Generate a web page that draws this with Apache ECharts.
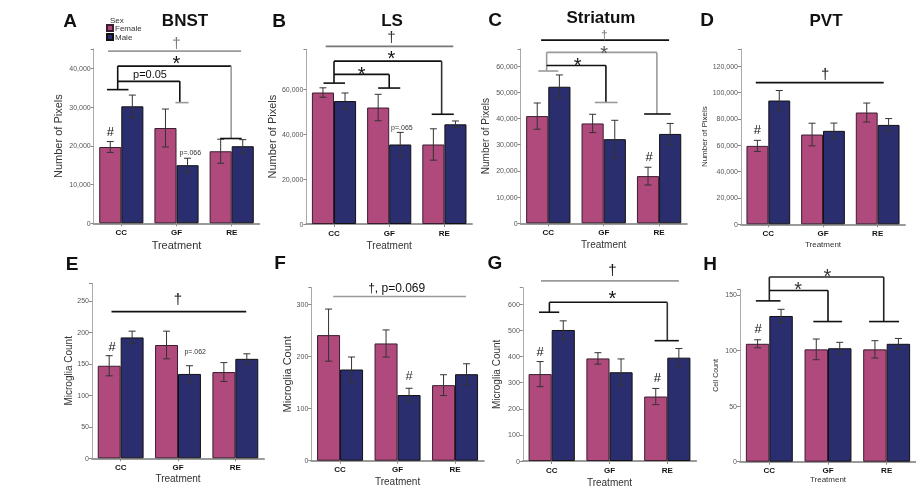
<!DOCTYPE html>
<html>
<head>
<meta charset="utf-8">
<script src="https://cdn.jsdelivr.net/npm/echarts@6/dist/echarts.min.js"></script>
<style>
html,body{margin:0;padding:0;background:#fff}
#c{width:916px;height:490px;will-change:transform;opacity:0.999;-webkit-font-smoothing:antialiased}
#c text{-webkit-font-smoothing:antialiased}
</style>
</head>
<body>
<div id="c"></div>
<script>
// ---------- DATA ----------
const categories = ['CC', 'GF', 'RE'];
// A: BNST (Number of Pixels)
const bnstFemale = [19700, 24600, 18600];
const bnstFemaleSem = [1400, 4900, 3100];
const bnstMale = [30200, 15000, 19900];
const bnstMaleSem = [2900, 1800, 1700];
// B: LS
const lsFemale = [58700, 52000, 35500];
const lsFemaleSem = [2100, 5900, 7000];
const lsMale = [54900, 35500, 44500];
const lsMaleSem = [3600, 5400, 1500];
// C: Striatum
const striatumFemale = [40900, 38100, 18000];
const striatumFemaleSem = [5000, 3500, 3400];
const striatumMale = [52100, 32100, 34100];
const striatumMaleSem = [4500, 7200, 4000];
// D: PVT
const pvtFemale = [59500, 68100, 84800];
const pvtFemaleSem = [4200, 8600, 7200];
const pvtMale = [93900, 70900, 75400];
const pvtMaleSem = [7600, 5900, 4800];
// E: BNST microglia count
const eFemale = [147, 180, 137];
const eFemaleSem = [16, 22, 15];
const eMale = [192, 134, 158];
const eMaleSem = [10, 13, 8];
// F: LS microglia count
const fFemale = [241, 225, 145];
const fFemaleSem = [50, 26, 20];
const fMale = [175, 126, 166];
const fMaleSem = [24, 13, 20];
// G: Striatum microglia count
const gFemale = [333, 393, 247];
const gFemaleSem = [48, 22, 31];
const gMale = [502, 340, 396];
const gMaleSem = [35, 51, 35];
// H: PVT cell count
const hFemale = [106, 101, 101];
const hFemaleSem = [3.6, 9.3, 7.8];
const hMale = [131, 102, 106];
const hMaleSem = [6, 5.3, 4.8];

// ---------- STYLE / LAYOUT ----------
const FONT = 'Liberation Sans, Arial, sans-serif';
const FEMALE = '#b04a7c';
const MALE = '#2b2e6e';
const BLK = '#111';
const GRY = '#9a9a9a';

function H(x1, x2, y, c) { return [x1, y, x2, y, c]; }
function V(x, y1, y2, c) { return [x, y1, x, y2, c]; }

const panels = [
  { letter: 'A', title: 'BNST', f: bnstFemale, fs: bnstFemaleSem, m: bnstMale, ms: bnstMaleSem,
    g: [93.7, 49, 165.6, 174.3], max: 45000, interval: 10000, comma: true,
    yName: 'Number of Pixels', yNs: 11, yGap: 30, xNs: 11, xGap: 16,
    segs: [H(-0.24, 2.17, 44450, GRY), H(-0.065, 1.99, 40590, BLK), V(-0.065, 40590, 34510, BLK),
      H(-0.26, 0.13, 34510, BLK), V(1.99, 40590, 21890, GRY), H(1.79, 2.18, 21890, BLK),
      H(-0.065, 1.06, 36650, BLK), V(1.06, 36650, 31160, BLK), H(0.98, 1.22, 31160, GRY)],
    txts: [[1.0, 46700, '†', 15, '#777'], [1.0, 42800, '*', 20, BLK], [0.52, 38450, 'p=0.05', 11, BLK],
      [-0.2, 23600, '#', 13, BLK], [1.25, 18400, 'p=.066', 7, '#333']] },
  { letter: 'B', title: 'LS', f: lsFemale, fs: lsFemaleSem, m: lsMale, ms: lsMaleSem,
    g: [306.4, 49.3, 165.6, 174.7], max: 78000, interval: 20000, comma: true,
    yName: 'Number of Pixels', yNs: 11, yGap: 29, xNs: 10, xGap: 16,
    segs: [H(-0.15, 2.16, 79300, '#777'), H(0.0, 1.95, 72700, BLK), V(0.0, 72700, 62900, BLK),
      H(-0.19, 0.2, 62900, BLK), V(1.95, 72700, 49000, '#333'), H(1.77, 2.17, 49000, BLK),
      H(0.0, 1.0, 66800, BLK), V(1.0, 66800, 60700, BLK), H(0.8, 1.2, 60700, BLK)],
    txts: [[1.04, 83700, '†', 15, '#333'], [1.04, 76300, '*', 20, BLK], [0.5, 69400, '*', 20, BLK],
      [1.23, 43300, 'p=.065', 7, '#333']] },
  { letter: 'C', title: 'Striatum', f: striatumFemale, fs: striatumFemaleSem, m: striatumMale, ms: striatumMaleSem,
    g: [520.6, 49, 166.2, 174.3], max: 66500, interval: 10000, comma: true,
    yName: 'Number of Pixels', yNs: 10, yGap: 30, xNs: 10, xGap: 16,
    segs: [H(-0.13, 2.18, 69900, BLK), H(-0.03, 1.96, 65200, GRY), V(-0.03, 65200, 58100, GRY),
      H(-0.18, 0.18, 58100, GRY), V(1.96, 65200, 41700, GRY), H(1.73, 2.21, 41700, BLK),
      H(-0.03, 1.04, 60200, BLK), V(1.04, 60200, 46100, BLK), H(0.84, 1.25, 46100, GRY)],
    txts: [[1.01, 71900, '†', 12, '#777'], [1.01, 66700, '*', 20, '#555'], [0.53, 62250, '*', 20, BLK],
      [1.82, 25400, '#', 13, BLK]] },
  { letter: 'D', title: 'PVT', f: pvtFemale, fs: pvtFemaleSem, m: pvtMale, ms: pvtMaleSem,
    g: [741, 49, 164, 175.3], max: 133000, interval: 20000, comma: true,
    yName: 'Number of Pixels', yNs: 8, yGap: 33, xNs: 8, xGap: 16,
    segs: [H(-0.23, 2.11, 107500, BLK)],
    txts: [[1.04, 114100, '†', 15, BLK], [-0.2, 71600, '#', 13, BLK]] },
  { letter: 'E', title: '', f: eFemale, fs: eFemaleSem, m: eMale, ms: eMaleSem,
    g: [92, 283.3, 172, 175], max: 278, interval: 50, comma: false,
    yName: 'Microglia Count', yNs: 10, yGap: 19, xNs: 10, xGap: 15,
    segs: [H(-0.16, 2.19, 233, BLK)],
    txts: [[1.0, 254, '†', 15, BLK], [-0.15, 177, '#', 13, BLK], [1.3, 169, 'p=.062', 7, '#333']] },
  { letter: 'F', title: '', f: fFemale, fs: fFemaleSem, m: fMale, ms: fMaleSem,
    g: [311.3, 287.7, 172.5, 173], max: 332, interval: 100, comma: false,
    yName: 'Microglia Count', yNs: 11, yGap: 19, xNs: 10, xGap: 16,
    segs: [H(-0.12, 2.19, 315, GRY)],
    txts: [[0.985, 331, '†, p=0.069', 12, BLK], [1.2, 162.6, '#', 13, '#333']] },
  { letter: 'G', title: '', f: gFemale, fs: gFemaleSem, m: gMale, ms: gMaleSem,
    g: [522.8, 287.7, 173.4, 173.3], max: 664, interval: 100, comma: false,
    yName: 'Microglia Count', yNs: 10, yGap: 21, xNs: 10, xGap: 16,
    segs: [H(-0.185, 2.2, 690, GRY), H(-0.04, 2.0, 608, BLK), V(-0.04, 608, 570, BLK),
      H(-0.22, 0.13, 570, BLK), V(2.0, 608, 461, '#333'), H(1.78, 2.2, 461, BLK)],
    txts: [[1.05, 732, '†', 15, BLK], [1.05, 642, '*', 20, BLK], [-0.2, 421, '#', 13, BLK], [1.83, 320.7, '#', 13, BLK]] },
  { letter: 'H', title: '', f: hFemale, fs: hFemaleSem, m: hMale, ms: hMaleSem,
    g: [740, 289.3, 176, 172.4], max: 155, interval: 50, comma: false,
    yName: 'Cell Count', yNs: 7, yGap: 21, xNs: 8, xGap: 12,
    segs: [H(0.0, 1.95, 166, '#222'), V(0.0, 166, 144.6, '#222'), H(-0.23, 0.19, 144.6, BLK),
      V(1.95, 166, 126, '#222'), H(1.7, 2.21, 126, BLK), H(0.0, 1.0, 153.9, BLK),
      V(1.0, 153.9, 126, BLK), H(0.75, 1.24, 126, BLK)],
    txts: [[0.99, 171.6, '*', 20, '#333'], [0.49, 159.7, '*', 20, '#333'], [-0.19, 120, '#', 13, BLK]] }
];

// title / letter positions (pixel centers)
const headings = [
  ['A', 70, 20, 19], ['BNST', 185, 20, 17], ['B', 279, 20, 19], ['LS', 392, 20, 17],
  ['C', 495, 19, 19], ['Striatum', 601, 17, 17], ['D', 707, 19, 19], ['PVT', 826, 20, 17],
  ['E', 72, 263, 19], ['F', 280, 262, 19], ['G', 495, 262, 19], ['H', 710, 263, 19]
];

function fmtComma(v) { return String(v).replace(/\B(?=(\d{3})+(?!\d))/g, ','); }

function errRender(off) {
  return function (params, api) {
    const idx = api.value(0), mean = api.value(1), sem = api.value(2);
    const band = api.size([1, 0])[0];
    const t = api.coord([idx, mean + sem]);
    const b = api.coord([idx, mean - sem]);
    const x = t[0] + off * band;
    const cw = 3.5;
    const st = { stroke: '#333', lineWidth: 1 };
    return { type: 'group', children: [
      { type: 'line', shape: { x1: x, y1: t[1], x2: x, y2: b[1] }, style: st },
      { type: 'line', shape: { x1: x - cw, y1: t[1], x2: x + cw, y2: t[1] }, style: st },
      { type: 'line', shape: { x1: x - cw, y1: b[1], x2: x + cw, y2: b[1] }, style: st }
    ] };
  };
}

function annRender(p) {
  return function (params, api) {
    const cs = params.coordSys;
    const n = categories.length;
    const xp = x => cs.x + (x + 0.5) * cs.width / n;
    const yp = y => api.coord([0, y])[1];
    const i = params.dataIndex;
    if (i < p.segs.length) {
      const s = p.segs[i];
      return { type: 'line', shape: { x1: xp(s[0]), y1: yp(s[1]), x2: xp(s[2]), y2: yp(s[3]) },
        style: { stroke: s[4], lineWidth: 1.6 } };
    }
    const t = p.txts[i - p.segs.length];
    const dy = t[2] === '*' ? 5 : 0;
    return { type: 'text', x: xp(t[0]), y: yp(t[1]) + dy,
      style: { legacy: false, text: t[2], fill: t[4], fontSize: t[3], fontFamily: FONT,
        align: 'center', verticalAlign: 'middle' } };
  };
}

const grid = [], xAxis = [], yAxis = [], series = [];
panels.forEach((p, i) => {
  grid.push({ left: p.g[0], top: p.g[1], width: p.g[2], height: p.g[3] });
  xAxis.push({ type: 'category', gridIndex: i, data: categories,
    name: 'Treatment', nameLocation: 'middle', nameGap: p.xGap,
    nameTextStyle: { fontSize: p.xNs, color: '#333', fontFamily: FONT },
    axisLine: { lineStyle: { color: '#9a9a9a', width: 2 } },
    axisTick: { show: true, alignWithLabel: true, length: 3, lineStyle: { color: '#888' } },
    axisLabel: { fontSize: 8, fontWeight: 'bold', color: '#111', margin: 5, fontFamily: FONT } });
  yAxis.push({ type: 'value', gridIndex: i, min: 0, max: p.max, interval: p.interval,
    name: p.yName, nameLocation: 'middle', nameGap: p.yGap,
    nameTextStyle: { fontSize: p.yNs, color: '#333', fontFamily: FONT },
    axisLine: { show: true, lineStyle: { color: '#aaa', width: 1 } },
    axisTick: { show: true, length: 3, lineStyle: { color: '#888' } },
    splitLine: { show: false },
    axisLabel: { fontSize: 7, color: '#555', margin: 3, fontFamily: FONT,
      formatter: v => (v % p.interval === 0 ? (p.comma ? fmtComma(v) : String(v)) : '') } });
  series.push({ type: 'bar', name: 'Female', xAxisIndex: i, yAxisIndex: i, data: p.f,
    barGap: '0%', barCategoryGap: '20%', silent: true,
    itemStyle: { color: FEMALE, borderColor: '#3b1d30', borderWidth: 1 } });
  series.push({ type: 'bar', name: 'Male', xAxisIndex: i, yAxisIndex: i, data: p.m,
    barGap: '0%', barCategoryGap: '20%', silent: true,
    itemStyle: { color: MALE, borderColor: '#111', borderWidth: 1 } });
  series.push({ type: 'custom', name: 'semF' + i, xAxisIndex: i, yAxisIndex: i, clip: false, z: 5, silent: true,
    data: p.f.map((v, k) => [k, v, p.fs[k]]), encode: { x: 0, y: 1 }, renderItem: errRender(-0.2) });
  series.push({ type: 'custom', name: 'semM' + i, xAxisIndex: i, yAxisIndex: i, clip: false, z: 5, silent: true,
    data: p.m.map((v, k) => [k, v, p.ms[k]]), encode: { x: 0, y: 1 }, renderItem: errRender(0.2) });
  series.push({ type: 'custom', name: 'ann' + i, xAxisIndex: i, yAxisIndex: i, clip: false, z: 6, silent: true,
    itemStyle: { color: '#111' },
    data: p.segs.concat(p.txts).map(() => [0, 0]), encode: { x: 0, y: 1 }, renderItem: annRender(p) });
});

const graphic = headings.map(h => ({ type: 'text', x: h[1], y: h[2],
  style: { text: h[0], fontSize: h[3], fontWeight: 'bold', fill: '#111', fontFamily: FONT,
    align: 'center', verticalAlign: 'middle' } }));
graphic.push({ type: 'text', x: 110, y: 20, style: { text: 'Sex', fontSize: 8, fill: '#333', fontFamily: FONT,
  align: 'left', verticalAlign: 'middle' } });

const chart = echarts.init(document.getElementById('c'), null, { renderer: 'svg' });
chart.setOption({
  animation: false,
  backgroundColor: '#fff',
  textStyle: { fontFamily: FONT },
  legend: { data: ['Female', 'Male'], left: 106, top: 24, orient: 'vertical', icon: 'rect',
    itemWidth: 6, itemHeight: 6, itemGap: 1, padding: 0, selectedMode: false,
    textStyle: { fontSize: 8, color: '#333', fontFamily: FONT, padding: [0, 0, 0, -3] } },
  grid, xAxis, yAxis, series, graphic
});
</script>
</body>
</html>
